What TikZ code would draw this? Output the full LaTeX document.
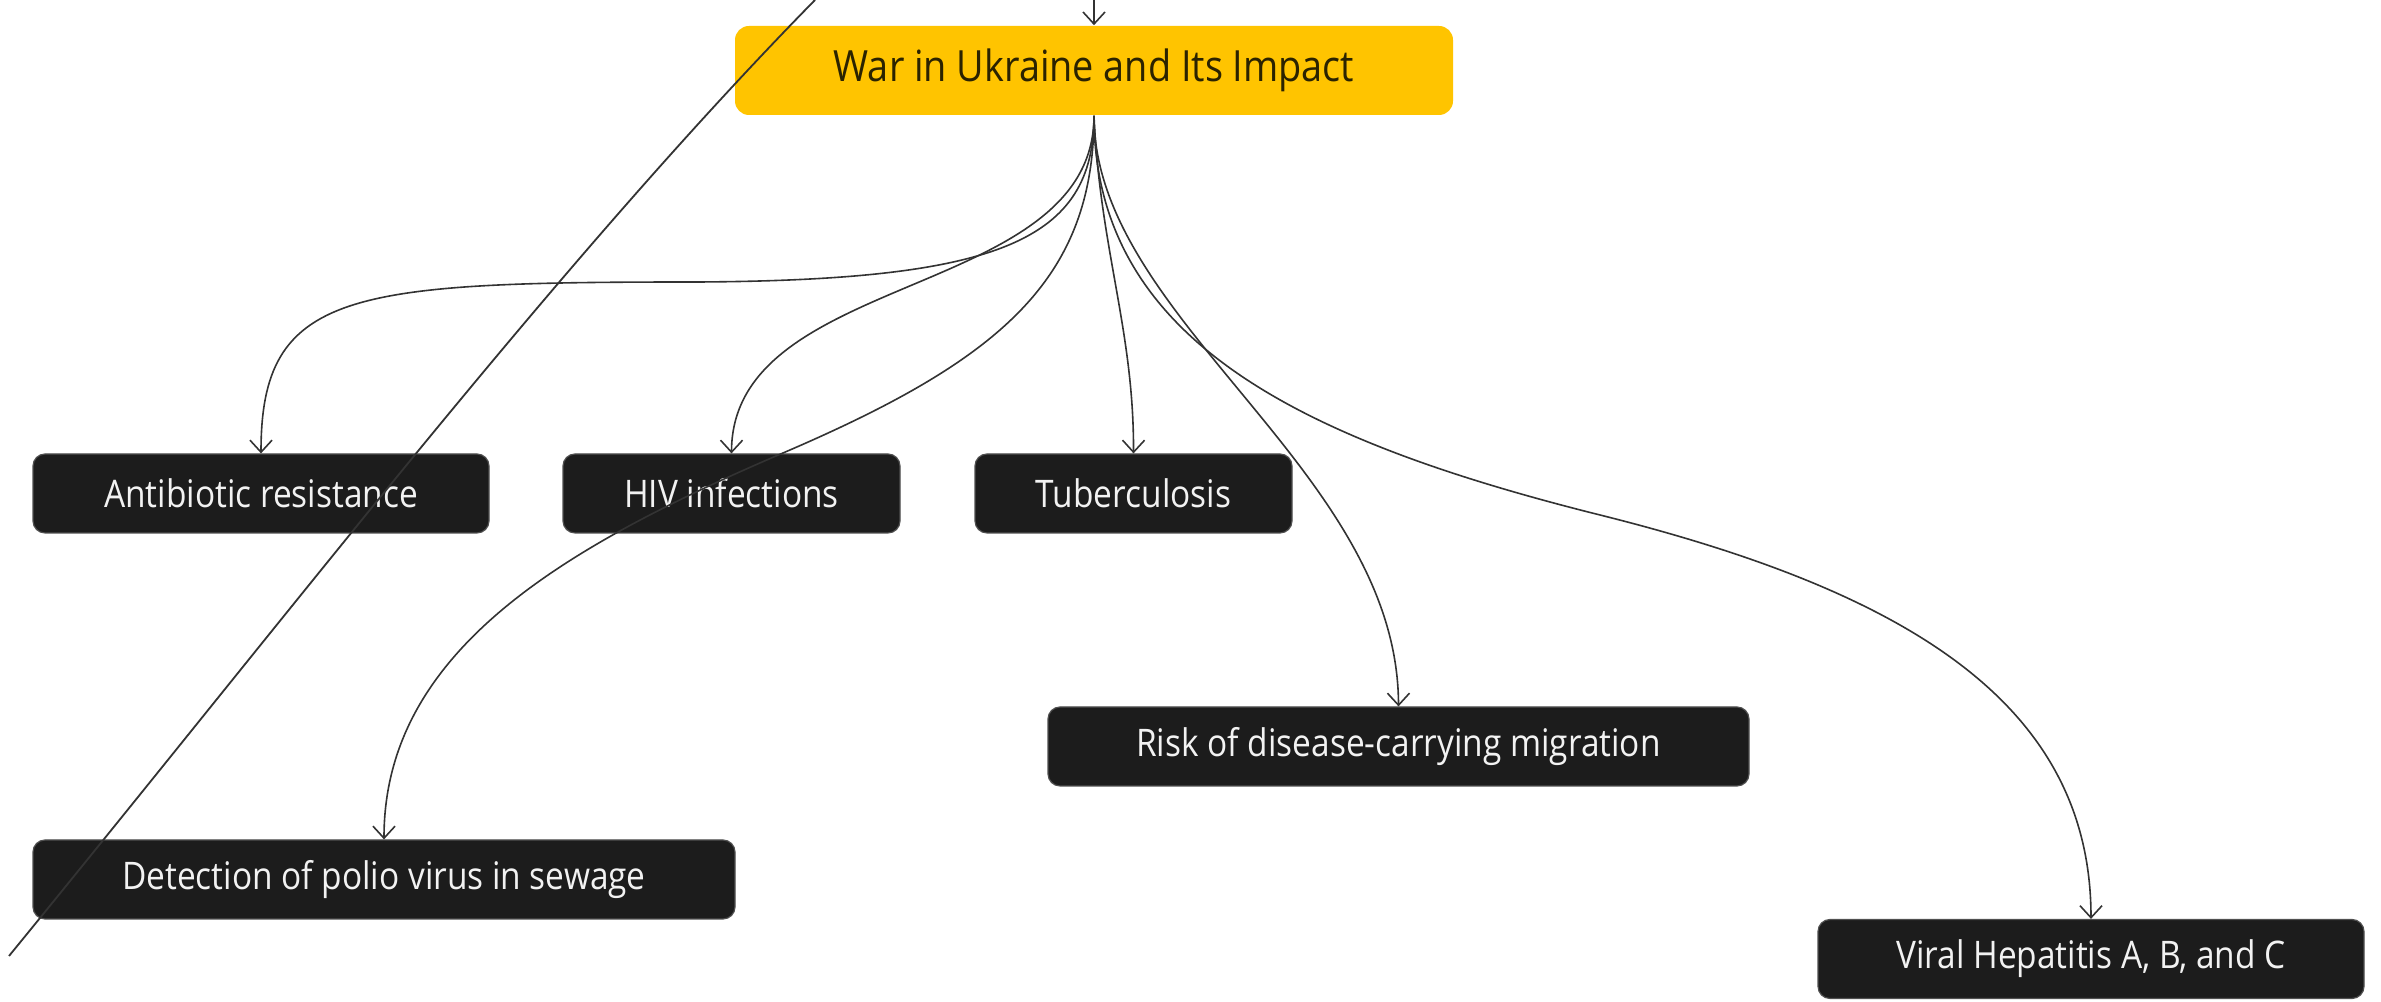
\documentclass[tikz,border=0pt]{standalone}
\usepackage{fontspec}
\setmainfont{Open Sans}[FakeStretch=0.88]
\usetikzlibrary{arrows.meta}
\definecolor{boxfill}{HTML}{1C1C1C}
\definecolor{boxedge}{HTML}{505050}
\definecolor{mainfill}{HTML}{FFC400}
\definecolor{linecol}{HTML}{333333}
\definecolor{maintext}{HTML}{2B2300}
\definecolor{boxtext}{HTML}{F2F2F2}
\begin{document}
\begin{tikzpicture}[x=0.25pt,y=-0.25pt,
  leaf/.style={fill=boxfill, draw=boxedge, line width=0.3pt, rounded corners=3pt,
    inner sep=0pt, minimum height=19.75pt, text=boxtext, font=\fontsize{9.5pt}{11pt}\selectfont},
  mainbox/.style={fill=mainfill, draw=none, rounded corners=3.5pt, inner sep=0pt,
    minimum width=179.5pt, minimum height=22.25pt, text=maintext, font=\fontsize{10.75pt}{12pt}\selectfont},
  conn/.style={draw=linecol, line width=0.4pt, -{Straight Barb[length=3pt,width=5.5pt]}},
  diag/.style={draw=linecol, line width=0.45pt}]
\useasboundingbox (0,0) rectangle (2381,1002);
\fill[white] (0,0) rectangle (2381,1002);

\node[mainbox] (main) at (1094,70.5) {War in Ukraine and Its Impact};
\node[leaf, minimum width=114pt] (anti) at (261,493.5) {Antibiotic resistance};
\node[leaf, minimum width=84.25pt] (hiv) at (731.5,493.5) {HIV infections};
\node[leaf, minimum width=79.25pt] (tb) at (1133.5,493.5) {Tuberculosis};
\node[leaf, minimum width=175.25pt] (risk) at (1398.5,746.5) {Risk of disease-carrying migration};
\node[leaf, minimum width=175.5pt] (det) at (384,879.5) {Detection of polio virus in sewage};
\node[leaf, minimum width=136.5pt] (viral) at (2091,959) {Viral Hepatitis A, B, and C};

\coordinate (topin) at (1094,0);
\draw[conn] (topin) -- (main.north);

\draw[conn] (main.south) .. controls (1094,240) and (1000,280) .. (700,282)
  .. controls (350,282) and (261,290) .. (anti.north);
\draw[conn] (main.south) .. controls (1094,300) and (732,270) .. (hiv.north);
\draw[conn] (main.south) .. controls (1094,280) and (1000,360) .. (783,453)
  .. controls (566,546) and (384,650) .. (det.north);
\draw[conn] (main.south) .. controls (1100,250) and (1134,330) .. (tb.north);
\draw[conn] (main.south) .. controls (1094,320) and (1398,470) .. (risk.north);
\draw[conn] (main.south) .. controls (1094,340) and (1300,440) .. (1600,515)
  .. controls (1900,590) and (2091,700) .. (viral.north);

\coordinate (dA) at (815,0);
\coordinate (dB) at (9,956);
\draw[diag] (dA) .. controls (560,260) and (300,600) .. (dB);
\end{tikzpicture}
\end{document}
